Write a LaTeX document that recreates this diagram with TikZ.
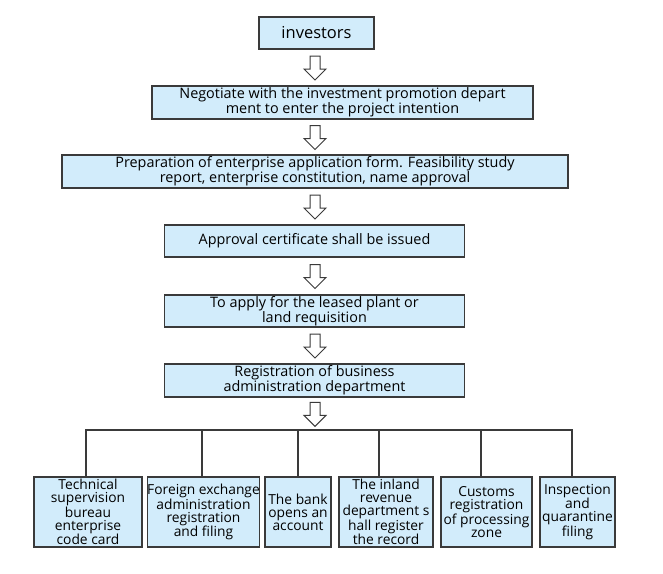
\documentclass[tikz,border=0pt]{standalone}
\usepackage{fontspec}
\setmainfont{Open Sans}
\usetikzlibrary{calc}
\definecolor{boxfill}{HTML}{D2ECFB}
\definecolor{boxline}{HTML}{3A3A3A}
\newcommand\hollowarr[2]{%
  \coordinate (hm) at ($(#1.south -| ax)!0.5!(#2.north -| ax)$);
  \draw[arr] ($(hm)+(-5,-11.5)$) -- ($(hm)+(5,-11.5)$) -- ($(hm)+(5,1.5)$) -- ($(hm)+(11,1.5)$)
    -- ($(hm)+(0,12.5)$) -- ($(hm)+(-11,1.5)$) -- ($(hm)+(-5,1.5)$) -- cycle;}
\begin{document}
\begin{tikzpicture}[x=1pt,y=-1pt,
  box/.style={draw=boxline, line width=1.3pt, fill=boxfill, inner sep=0pt, align=center,
    font=\fontsize{14.4}{11.5}\selectfont},
  leaf/.style={box, minimum height=70pt, font=\fontsize{13.8}{13}\selectfont},
  arr/.style={draw=boxline, line width=1pt, fill=white, line join=miter},
  wire/.style={draw=boxline, line width=1.3pt}]
\useasboundingbox[fill=white] (0,0) rectangle (663,573);
\coordinate (ax) at (315,0);
\node[box, minimum width=115pt, minimum height=32pt, font=\fontsize{16.5}{12}\selectfont] (inv) at (316.5,33) {investors};
\node[box, minimum width=381pt, minimum height=33pt] (neg) at (342.5,102.5) {Negotiate with the investment promotion depart\\ment to enter the project intention};
\node[box, minimum width=506pt, minimum height=33pt] (prep) at (315,171.5) {Preparation of enterprise application form. Feasibility study\\report, enterprise constitution, name approval};
\node[box, minimum width=300pt, minimum height=32pt] (appr) at (314.5,241) {Approval certificate shall be issued};
\node[box, minimum width=300pt, minimum height=32pt] (apply) at (314.5,311) {To apply for the leased plant or\\land requisition};
\node[box, minimum width=300pt, minimum height=33pt] (reg) at (314.5,380.5) {Registration of business\\administration department};
\coordinate (bus) at (315,430);
\node[leaf, minimum width=108pt] (b1) at (88,512) {Technical\\supervision\\bureau\\enterprise\\code card};
\node[leaf, minimum width=109pt] (b2) at (203.5,512) {Foreign exchange\\administration\\registration\\and filing};
\node[leaf, minimum width=66pt] (b3) at (298,512) {The bank\\opens an\\account};
\node[leaf, minimum width=94pt] (b4) at (386,512) {The inland\\revenue\\department s\\hall register\\the record};
\node[leaf, minimum width=91pt] (b5) at (486.5,512) {Customs\\registration\\of processing\\zone};
\node[leaf, minimum width=75pt] (b6) at (577.5,512) {Inspection\\and\\quarantine\\filing};
\hollowarr{inv}{neg}
\hollowarr{neg}{prep}
\hollowarr{prep}{appr}
\hollowarr{appr}{apply}
\hollowarr{apply}{reg}
\hollowarr{reg}{bus}
\coordinate (v1) at ([xshift=-2pt]b1.north);
\coordinate (v2) at ([xshift=-1.5pt]b2.north);
\coordinate (v3) at (b3.north);
\coordinate (v4) at ([xshift=-7pt]b4.north);
\coordinate (v5) at ([xshift=-5.5pt]b5.north);
\coordinate (v6) at ([xshift=-5.5pt]b6.north);
\draw[wire] (v1) |- (v6 |- bus) -- (v6);
\draw[wire] (v2) -- (v2 |- bus);
\draw[wire] (v3) -- (v3 |- bus);
\draw[wire] (v4) -- (v4 |- bus);
\draw[wire] (v5) -- (v5 |- bus);
\end{tikzpicture}
\end{document}
